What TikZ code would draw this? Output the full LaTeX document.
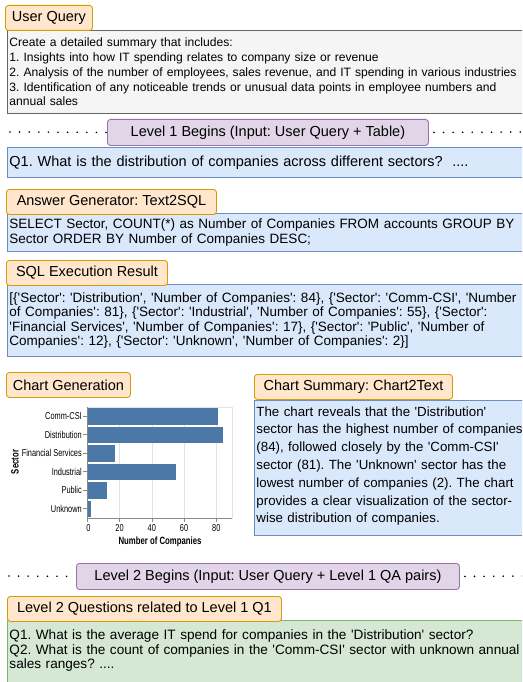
\documentclass[tikz,border=0pt]{standalone}
\usepackage{fontspec}
\setmainfont{Liberation Sans}[Ligatures=TeXOff]
\newfontfamily\chartfont[FakeStretch=0.74]{Liberation Sans}
\usetikzlibrary{positioning}
\frenchspacing

\definecolor{tabfill}{HTML}{FFE6CC}
\definecolor{tabline}{HTML}{D79B00}
\definecolor{grayfill}{HTML}{F5F5F5}
\definecolor{grayline}{HTML}{666666}
\definecolor{levelfill}{HTML}{E1D5E7}
\definecolor{levelline}{HTML}{9673A6}
\definecolor{bluefill}{HTML}{DAE8FC}
\definecolor{blueline}{HTML}{6C8EBF}
\definecolor{greenfill}{HTML}{D5E8D4}
\definecolor{greenline}{HTML}{82B366}
\definecolor{barblue}{HTML}{4C78A8}
\definecolor{gridgray}{HTML}{E2E2E2}
\definecolor{axisgray}{HTML}{888888}

\tikzset{
  tab/.style={draw=tabline, fill=tabfill, rounded corners=3pt, line width=0.9pt,
    anchor=north west, minimum height=25pt, inner sep=0pt,
    font=\fontsize{14.5}{17}\selectfont},
  level/.style={draw=levelline, fill=levelfill, rounded corners=3pt, line width=0.9pt,
    anchor=north west, minimum height=26pt, inner sep=0pt,
    font=\fontsize{14.5}{17}\selectfont},
  panel/.style={anchor=north west, line width=0.9pt, align=left,
    text width=526pt, inner xsep=2pt, inner ysep=0pt},
  querybox/.style={panel, draw=grayline, fill=grayfill},
  bluebox/.style={panel, draw=blueline, fill=bluefill},
  greenbox/.style={panel, draw=greenline, fill=greenfill},
  dots/.style={line width=1.8pt, line cap=round, dash pattern=on 0pt off 9.6pt},
  bar/.style={fill=barblue, draw=none},
  ylab/.style={anchor=east, inner sep=0pt, font=\chartfont\fontsize{10}{12}\selectfont},
  xlab/.style={anchor=north, inner sep=0pt, font=\chartfont\fontsize{10}{12}\selectfont},
}

\begin{document}
\begin{tikzpicture}[x=1pt, y=-1pt]
  \useasboundingbox (0,0) rectangle (522,682);
  \clip (0,0) rectangle (522,682);

  % user query
  \node[querybox, minimum height=83pt, font=\fontsize{12.1}{14.8}\selectfont] (query) at (7,30)
    {Create a detailed summary that includes:\\
     1. Insights into how IT spending relates to company size or revenue\\
     2. Analysis of the number of employees, sales revenue, and IT spending in various industries\\
     3. Identification of any noticeable trends or unusual data points in employee numbers and\\
     annual sales};
  \node[tab, minimum width=87pt] (querytab) at (5,5) {User Query};

  % level 1
  \node[level, minimum width=321pt] (level1) at (107,119) {Level 1 Begins (Input: User Query + Table)};
  \coordinate (l1left) at (10,132);
  \coordinate (l1right) at (526,132);
  \draw[dots] (l1left) -- (level1.west);
  \draw[dots] ([xshift=5pt]level1.east) -- (l1right);

  \node[bluebox, minimum height=30pt, font=\fontsize{14.5}{17}\selectfont] (q1) at (7,147)
    {Q1. What is the distribution of companies across different sectors?\ \ ....};

  % text2sql
  \node[bluebox, minimum height=38pt, font=\fontsize{13.5}{15}\selectfont] (sql) at (7,213)
    {SELECT Sector, COUNT(*) as Number of Companies FROM accounts GROUP BY\\
     Sector ORDER BY Number of Companies DESC;};
  \node[tab, minimum width=210pt] (sqltab) at (6,189) {Answer Generator: Text2SQL};

  % execution result
  \node[bluebox, minimum height=72pt, font=\fontsize{13.5}{14.4}\selectfont] (result) at (7,284)
    {[\{'Sector': 'Distribution', 'Number of Companies': 84\}, \{'Sector': 'Comm-CSI', 'Number\\
     of Companies': 81\}, \{'Sector': 'Industrial', 'Number of Companies': 55\}, \{'Sector':\\
     'Financial Services', 'Number of Companies': 17\}, \{'Sector': 'Public', 'Number of\\
     Companies': 12\}, \{'Sector': 'Unknown', 'Number of Companies': 2\}]};
  \node[tab, minimum width=161pt] (resulttab) at (6,260) {SQL Execution Result};

  % chart
  \node[tab, minimum width=124pt] (charttab) at (6,372) {Chart Generation};
  \draw[gridgray, line width=0.6pt] (87.3,407) rectangle (232.4,518);
  \draw[gridgray, line width=0.6pt] (119.5,407) -- (119.5,518);
  \draw[gridgray, line width=0.6pt] (151.8,407) -- (151.8,518);
  \draw[gridgray, line width=0.6pt] (184.0,407) -- (184.0,518);
  \draw[gridgray, line width=0.6pt] (216.3,407) -- (216.3,518);
  \fill[bar] (87.3,408.0) rectangle (217.9,424.5);
  \fill[bar] (87.3,426.5) rectangle (222.7,443.0);
  \fill[bar] (87.3,445.0) rectangle (114.7,461.5);
  \fill[bar] (87.3,463.5) rectangle (176.0,480.0);
  \fill[bar] (87.3,482.0) rectangle (106.6,498.5);
  \fill[bar] (87.3,500.5) rectangle (90.5,517.0);
  \draw[axisgray, line width=0.6pt] (87.3,407) -- (87.3,518) -- (232.4,518);
  \draw[axisgray, line width=0.6pt]
    (83,416.2) -- (87.3,416.2) (83,434.7) -- (87.3,434.7) (83,453.2) -- (87.3,453.2)
    (83,471.7) -- (87.3,471.7) (83,490.2) -- (87.3,490.2) (83,508.7) -- (87.3,508.7)
    (87.3,518) -- (87.3,522) (119.5,518) -- (119.5,522) (151.8,518) -- (151.8,522)
    (184.0,518) -- (184.0,522) (216.3,518) -- (216.3,522);
  \node[ylab] (commcsi) at (82,416.2) {Comm-CSI};
  \node[ylab] (distribution) at (82,434.7) {Distribution};
  \node[ylab] (financial) at (82,453.2) {Financial Services};
  \node[ylab] (industrial) at (82,471.7) {Industrial};
  \node[ylab] (public) at (82,490.2) {Public};
  \node[ylab] (unknown) at (82,508.7) {Unknown};
  \node[xlab] (x0) at (88.5,524) {0};
  \node[xlab] (x20) at (119.5,524) {20};
  \node[xlab] (x40) at (151.8,524) {40};
  \node[xlab] (x60) at (184.0,524) {60};
  \node[xlab] (x80) at (216.3,524) {80};
  \node[xlab, font=\chartfont\bfseries\fontsize{10.5}{12}\selectfont] (xtitle) at (160,537) {Number of Companies};
  \node[inner sep=0pt, rotate=90, font=\chartfont\bfseries\fontsize{10.5}{12}\selectfont] (ytitle) at (15,462) {Sector};

  % chart summary
  \node[bluebox, text width=300pt, minimum height=135pt, font=\fontsize{13.3}{17.8}\selectfont] (summary) at (254,400)
    {\mbox{}\\[-11.8pt]
     The chart reveals that the 'Distribution'\\
     sector has the highest number of companies\\
     (84), followed closely by the 'Comm-CSI'\\
     sector (81). The 'Unknown' sector has the\\
     lowest number of companies (2). The chart\\
     provides a clear visualization of the sector-\\
     wise distribution of companies.};
  \node[tab, minimum width=198pt] (summarytab) at (254,374) {Chart Summary: Chart2Text};

  % level 2
  \node[level, minimum width=383pt] (level2) at (76,563) {Level 2 Begins (Input: User Query + Level 1 QA pairs)};
  \coordinate (l2left) at (9,576);
  \coordinate (l2right) at (526,576);
  \draw[dots] (l2left) -- (level2.west);
  \draw[dots] ([xshift=5pt]level2.east) -- (l2right);

  \node[greenbox, minimum height=70pt, font=\fontsize{13.6}{14.6}\selectfont] (level2q) at (7,620)
    {Q1. What is the average IT spend for companies in the 'Distribution' sector?\\
     Q2. What is the count of companies in the 'Comm-CSI' sector with unknown annual\\
     sales ranges? ....\\[-2pt]\mbox{}};
  \node[tab, minimum width=274pt] (level2tab) at (7,596) {Level 2 Questions related to Level 1 Q1};
\end{tikzpicture}
\end{document}
